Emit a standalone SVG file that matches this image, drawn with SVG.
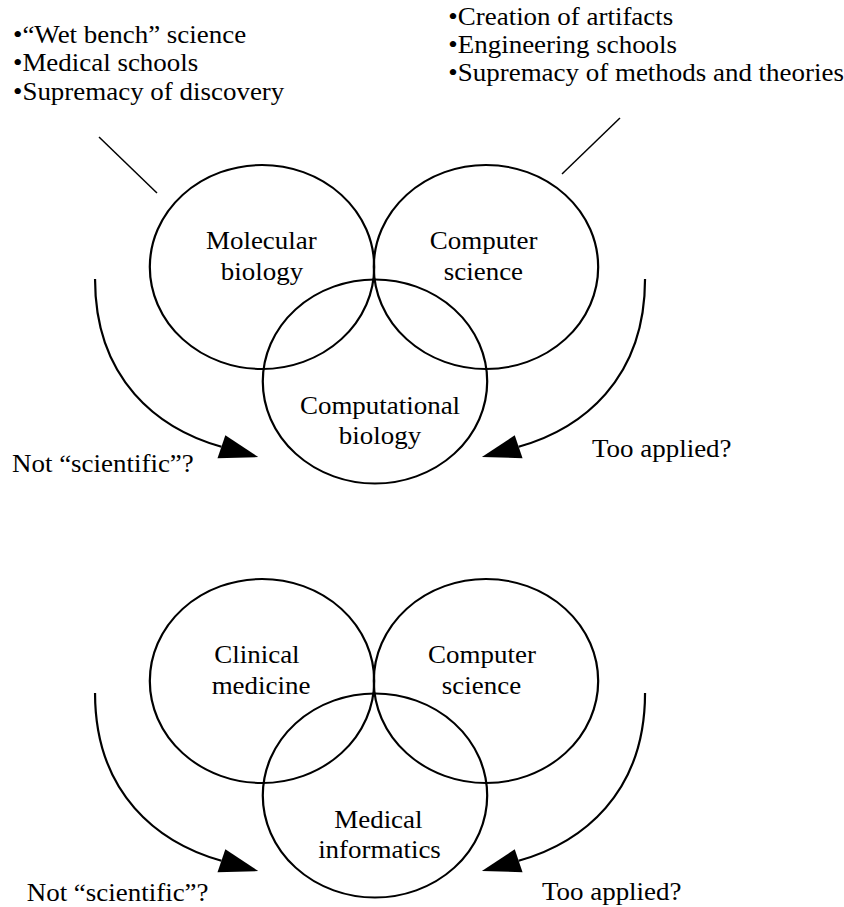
<svg xmlns="http://www.w3.org/2000/svg" width="844" height="907" viewBox="0 0 844 907">
  <style>
    .ring { fill: none; stroke: #000; stroke-width: 2; }
    .lead { fill: none; stroke: #000; stroke-width: 1.3; }
    .arc { fill: none; stroke: #000; stroke-width: 2; marker-end: url(#head); }
    text { font-family: "Liberation Serif", "Times New Roman", serif; font-size: 24.5px; fill: #000; }
    .c { text-anchor: middle; }
  </style>
  <defs>
    <!-- solid triangular arrowhead; the shaft ends at the base centre -->
    <marker id="head" markerUnits="userSpaceOnUse" viewBox="0 0 36 24" markerWidth="36" markerHeight="24" refX="0" refY="12" orient="auto" overflow="visible">
      <path d="M0,0 L35,12 L0,24 Z" fill="#000"/>
    </marker>
  </defs>
  <rect width="844" height="907" fill="#fff"/>

  <!-- the whole figure is set slightly wide -->
  <g transform="scale(1.1 1)">

    <!-- upper panel: computational biology -->
    <g id="notes-biology">
      <text x="11.8" y="43">•“Wet bench” science</text>
      <text x="11.8" y="71.5">•Medical schools</text>
      <text x="11.8" y="100">•Supremacy of discovery</text>
    </g>
    <g id="notes-cs">
      <text x="407.6" y="25">•Creation of artifacts</text>
      <text x="407.6" y="53">•Engineering schools</text>
      <text x="407.6" y="81">•Supremacy of methods and theories</text>
    </g>

    <g id="molecular-biology">
      <circle class="ring" cx="238.2" cy="267" r="102"/>
      <text class="c" x="237.6" y="249">Molecular</text>
      <text class="c" x="238.2" y="280">biology</text>
    </g>
    <g id="computer-science-1">
      <circle class="ring" cx="441.8" cy="267" r="102"/>
      <text class="c" x="439.7" y="249">Computer</text>
      <text class="c" x="439.5" y="280">science</text>
    </g>
    <g id="computational-biology">
      <circle class="ring" cx="340.9" cy="381.5" r="102"/>
      <text class="c" x="345.5" y="414">Computational</text>
      <text class="c" x="345.5" y="444">biology</text>
    </g>

    <g id="label-not-scientific-1">
      <text x="10.9" y="472">Not “scientific”?</text>
    </g>
    <g id="label-too-applied-1">
      <text x="538.2" y="457">Too applied?</text>
    </g>

    <g id="connectors-1">
      <line class="lead" x1="90" y1="137" x2="142.7" y2="193"/>
      <line class="lead" x1="563.6" y1="118" x2="510.9" y2="174"/>
      <path class="arc" d="M86.4,279 C86.4,380 144,428.9 201.3,446.7"/>
      <path class="arc" d="M586.4,279 C586.4,380 528.8,428.9 471.5,446.7"/>
    </g>

    <!-- lower panel: medical informatics -->
    <g id="clinical-medicine">
      <circle class="ring" cx="238.2" cy="681" r="102"/>
      <text class="c" x="233.6" y="663">Clinical</text>
      <text class="c" x="237.3" y="694">medicine</text>
    </g>
    <g id="computer-science-2">
      <circle class="ring" cx="441.8" cy="681" r="102"/>
      <text class="c" x="438.2" y="663">Computer</text>
      <text class="c" x="437.7" y="694">science</text>
    </g>
    <g id="medical-informatics">
      <circle class="ring" cx="340.9" cy="795.5" r="102"/>
      <text class="c" x="344" y="828">Medical</text>
      <text class="c" x="345" y="858">informatics</text>
    </g>

    <g id="label-not-scientific-2">
      <text x="24.3" y="901">Not “scientific”?</text>
    </g>
    <g id="label-too-applied-2">
      <text x="492.7" y="900">Too applied?</text>
    </g>

    <g id="connectors-2">
      <path class="arc" d="M86.4,693 C86.4,794 144,842.9 201.3,860.7"/>
      <path class="arc" d="M586.4,693 C586.4,794 528.8,842.9 471.5,860.7"/>
    </g>
  </g>
</svg>
